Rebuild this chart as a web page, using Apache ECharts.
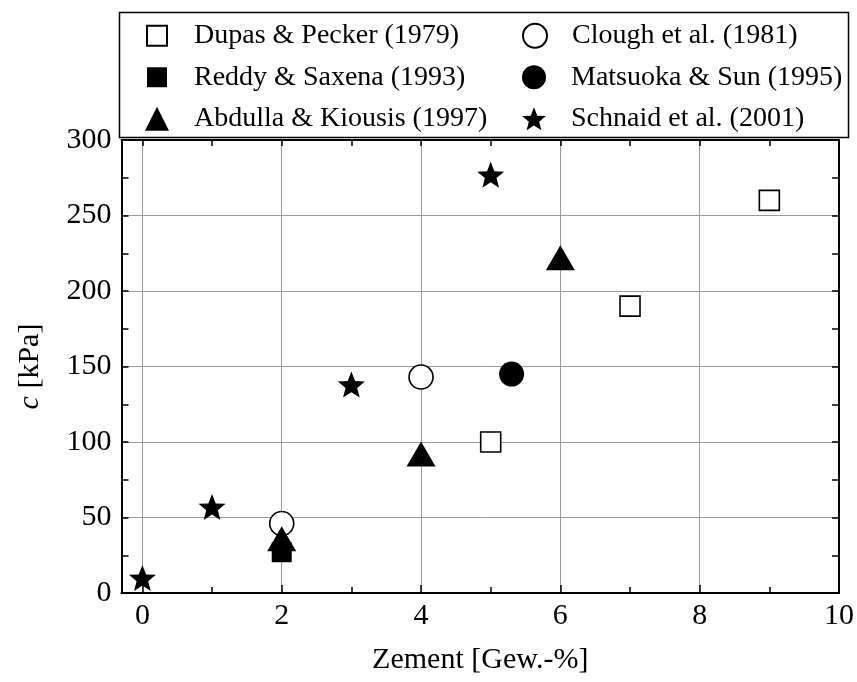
<!DOCTYPE html>
<html>
<head>
<meta charset="utf-8">
<script src="https://cdn.jsdelivr.net/npm/echarts@6/dist/echarts.min.js"></script>
<style>
  html, body { margin: 0; padding: 0; background: #fff; }
  #chart { width: 857px; height: 682px; }
</style>
</head>
<body>
<div id="chart"></div>
<script>
// Cohesion c [kPa] versus cement content [Gew.-%], several studies
const dupasPecker    = [[5, 100], [7, 190], [9, 260]];
const cloughEtAl     = [[2, 46], [4, 143]];
const reddySaxena    = [[2, 27]];
const matsuokaSun    = [[5.3, 145]];
const abdullaKiousis = [[2, 36], [4, 92], [6, 222]];
const schnaidEtAl    = [[0, 10], [1, 57], [3, 138], [5, 277]];

const seriesNames = [
  'Dupas & Pecker (1979)', 'Clough et al. (1981)',
  'Reddy & Saxena (1993)', 'Matsuoka & Sun (1995)',
  'Abdulla & Kiousis (1997)', 'Schnaid et al. (2001)'
];

const FONT = '"Liberation Serif", "DejaVu Serif", serif';
const STAR = 'path://M0,-10 L2.6,-3.4 L9.51,-3.09 L4.1,1.35 L5.88,8.09 L0,4.3 L-5.88,8.09 L-4.1,1.35 L-9.51,-3.09 L-2.6,-3.4 Z';
// square legend icon with a little empty margin so it stays smaller than the circles
const SQUARE_ICON = 'path://M0,0 M24,24 M2,2 L22,2 L22,22 L2,22 Z';

const chart = echarts.init(document.getElementById('chart'), null, { renderer: 'canvas' });

const axisLine = { show: true, onZero: false, lineStyle: { color: '#000', width: 2 } };
const gridLine = { show: true, lineStyle: { color: '#9a9a9a', width: 1 } };
const tickStyle = { color: '#000', width: 1.5 };

function scatter(name, data, symbol, size, filled) {
  return {
    type: 'scatter',
    name: name,
    data: data,
    symbol: symbol,
    symbolSize: size,
    itemStyle: {
      color: filled ? '#000' : '#fff',
      borderColor: '#000',
      borderWidth: filled ? 0 : 1.6,
      opacity: 1
    },
    emphasis: { disabled: true }
  };
}

chart.setOption({
  animation: false,
  backgroundColor: '#fff',
  textStyle: { fontFamily: FONT },
  grid: { left: 121.5, right: 18, top: 140, bottom: 89, containLabel: false },
  legend: {
    left: 144, top: 11,
    width: 760,
    padding: [9, 0, 9, 0],
    orient: 'horizontal',
    itemWidth: 24, itemHeight: 24,
    itemGap: 10,
    textStyle: { fontFamily: FONT, fontSize: 28, color: '#000', width: 318, lineHeight: 31.5,
                 padding: [0, 0, 0, 20] },
    data: [
      { name: seriesNames[0], icon: SQUARE_ICON },
      { name: seriesNames[1] },
      { name: seriesNames[2], icon: SQUARE_ICON },
      { name: seriesNames[3] },
      { name: seriesNames[4] },
      { name: seriesNames[5] }
    ]
  },
  graphic: [{
    type: 'rect',
    left: 117, top: 10,
    shape: { width: 729, height: 125 },
    style: { fill: 'none', stroke: '#000', lineWidth: 1.5 },
    silent: true
  }],
  xAxis: [
    {
      type: 'value', min: -0.3, max: 10, splitNumber: 5, position: 'bottom',
      name: 'Zement [Gew.-%]', nameLocation: 'middle', nameGap: 52,
      nameTextStyle: { fontFamily: FONT, fontSize: 30, color: '#000' },
      axisLine: axisLine,
      axisTick: { show: true, inside: true, length: 8, lineStyle: tickStyle },
      axisLabel: { fontFamily: FONT, fontSize: 30, color: '#000', margin: 8, showMinLabel: false,
                   formatter: v => (Math.abs(v - Math.round(v)) < 1e-6 ? String(Math.round(v)) : '') },
      splitLine: gridLine
    },
    {
      type: 'value', min: -0.3, max: 10, splitNumber: 10, position: 'bottom',
      axisLine: { show: false, onZero: false },
      axisTick: { show: true, inside: true, length: 6, lineStyle: tickStyle },
      axisLabel: { show: false },
      splitLine: { show: false }
    },
    {
      type: 'value', min: -0.3, max: 10, splitNumber: 10, position: 'top',
      axisLine: axisLine,
      axisTick: { show: true, inside: true, length: 6, lineStyle: tickStyle },
      axisLabel: { show: false },
      splitLine: { show: false }
    }
  ],
  yAxis: [
    {
      type: 'value', min: 0, max: 300, interval: 50, position: 'left',
      name: '{i|c} [kPa]', nameLocation: 'middle', nameGap: 76, nameRotate: 90,
      nameTextStyle: { fontFamily: FONT, fontSize: 30, color: '#000',
                       rich: { i: { fontFamily: FONT, fontSize: 30, fontStyle: 'italic', color: '#000' } } },
      axisLine: axisLine,
      axisTick: { show: true, inside: true, length: 7, lineStyle: tickStyle },
      minorTick: { show: true, splitNumber: 2, length: 7, lineStyle: tickStyle },
      axisLabel: { fontFamily: FONT, fontSize: 30, color: '#000', margin: 10 },
      splitLine: gridLine
    },
    {
      type: 'value', min: 0, max: 300, interval: 50, position: 'right',
      axisLine: axisLine,
      axisTick: { show: true, inside: true, length: 7, lineStyle: tickStyle },
      minorTick: { show: true, splitNumber: 2, length: 7, lineStyle: tickStyle },
      axisLabel: { show: false },
      splitLine: { show: false }
    }
  ],
  series: [
    scatter(seriesNames[0], dupasPecker, 'rect', 20, false),
    scatter(seriesNames[1], cloughEtAl, 'circle', 24, false),
    scatter(seriesNames[2], reddySaxena, 'rect', 20, true),
    scatter(seriesNames[3], matsuokaSun, 'circle', 25, true),
    scatter(seriesNames[4], abdullaKiousis, 'triangle', [29, 25], true),
    scatter(seriesNames[5], schnaidEtAl, STAR, [27, 26], true)
  ]
});
</script>
</body>
</html>
